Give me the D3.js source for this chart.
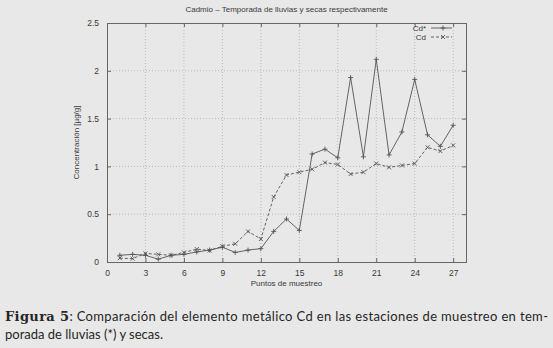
<!DOCTYPE html>
<html>
<head>
<meta charset="utf-8">
<script src="https://cdn.jsdelivr.net/npm/d3@7"></script>
<style>
  body { margin: 0; background: #e8e8e8; }
  svg { display: block; }
</style>
</head>
<body>
<div id="chart"></div>
<script>
// puntos de muestreo 1..27
const puntos = d3.range(1, 28);
// temporada de lluvias (Cd*)
const cdLluvias = [0.07, 0.08, 0.07, 0.03, 0.07, 0.08, 0.105, 0.125, 0.155, 0.10, 0.125, 0.14, 0.32, 0.45, 0.33,
  1.13, 1.18, 1.09, 1.93, 1.10, 2.12, 1.12, 1.36, 1.91, 1.33, 1.21, 1.43];
// temporada de secas (Cd)
const cdSecas = [0.04, 0.035, 0.09, 0.08, 0.07, 0.10, 0.135, 0.12, 0.165, 0.19, 0.32, 0.24, 0.68, 0.91, 0.94,
  0.97, 1.04, 1.02, 0.92, 0.94, 1.03, 0.99, 1.01, 1.03, 1.20, 1.16, 1.22];
const xTicks = [0, 3, 6, 9, 12, 15, 18, 21, 24, 27];
const yTicks = [0, 0.5, 1, 1.5, 2, 2.5];

const width = 553, height = 348;
const margin = {left: 107, right: 87, top: 23, bottom: 86};
const ink = "#3a3a3a", lineCol = "#555";

const svg = d3.select("#chart").append("svg")
  .attr("width", width)
  .attr("height", height)
  .style("font-family", "'Liberation Sans', Arial, sans-serif");

const x = d3.scaleLinear().domain([0, 28]).range([margin.left, width - margin.right]);
const y = d3.scaleLinear().domain([0, 2.5]).range([height - margin.bottom, margin.top]);

// grid
const grid = svg.append("g").attr("stroke", "#9a9a9a").attr("stroke-width", 0.6).attr("stroke-dasharray", "1,2");
grid.selectAll(".gx").data(xTicks.filter(d => d > 0)).enter().append("line")
  .attr("x1", d => x(d)).attr("x2", d => x(d)).attr("y1", y(0)).attr("y2", y(2.5));
grid.selectAll(".gy").data(yTicks.filter(d => d > 0 && d < 2.5)).enter().append("line")
  .attr("y1", d => y(d)).attr("y2", d => y(d)).attr("x1", x(0)).attr("x2", x(28));

// axes (gnuplot style: ticks inside, mirrored)
const fmt = d => d3.format("")(d);
const axB = svg.append("g").attr("transform", `translate(0,${y(0)})`)
  .call(d3.axisBottom(x).tickValues(xTicks).tickSize(-4).tickPadding(8).tickFormat(fmt));
const axT = svg.append("g").attr("transform", `translate(0,${y(2.5)})`)
  .call(d3.axisTop(x).tickValues(xTicks).tickSize(-4).tickFormat(""));
const axL = svg.append("g").attr("transform", `translate(${x(0)},0)`)
  .call(d3.axisLeft(y).tickValues(yTicks).tickSize(-4).tickPadding(8).tickFormat(fmt));
const axR = svg.append("g").attr("transform", `translate(${x(28)},0)`)
  .call(d3.axisRight(y).tickValues(yTicks).tickSize(-4).tickFormat(""));
[axB, axT, axL, axR].forEach(a => {
  a.select(".domain").attr("stroke", "#666").attr("stroke-width", 1);
  a.selectAll(".tick line").attr("stroke", "#666");
  a.selectAll(".tick text").attr("fill", ink).style("font-size", "8.5px");
});

// lines
const line = d3.line().x((d, i) => x(puntos[i])).y(d => y(d));
svg.append("path").datum(cdLluvias).attr("d", line)
  .attr("fill", "none").attr("stroke", lineCol).attr("stroke-width", 0.9);
svg.append("path").datum(cdSecas).attr("d", line)
  .attr("fill", "none").attr("stroke", lineCol).attr("stroke-width", 0.9).attr("stroke-dasharray", "3,2");

// markers
svg.append("g").selectAll("path").data(cdLluvias).enter().append("path")
  .attr("d", "M-2.5,0H2.5M0,-2.5V2.5")
  .attr("transform", (d, i) => `translate(${x(puntos[i])},${y(d)})`)
  .attr("stroke", lineCol).attr("stroke-width", 0.9);
svg.append("g").selectAll("path").data(cdSecas).enter().append("path")
  .attr("d", "M-2,-2L2,2M-2,2L2,-2")
  .attr("transform", (d, i) => `translate(${x(puntos[i])},${y(d)})`)
  .attr("stroke", lineCol).attr("stroke-width", 0.9);

// legend
const leg = [{label: "Cd*", dash: null, mark: "M-2.5,0H2.5M0,-2.5V2.5"},
             {label: "Cd", dash: "3,2", mark: "M-2,-2L2,2M-2,2L2,-2"}];
const lg = svg.append("g");
leg.forEach((l, i) => {
  const ly = 28 + i * 9;
  lg.append("text").attr("x", 426).attr("y", ly + 3).attr("text-anchor", "end")
    .attr("fill", ink).style("font-size", "8px").text(l.label);
  lg.append("line").attr("x1", 431).attr("x2", 452).attr("y1", ly).attr("y2", ly)
    .attr("stroke", lineCol).attr("stroke-width", 0.9).attr("stroke-dasharray", l.dash);
  lg.append("path").attr("d", l.mark).attr("transform", `translate(443,${ly})`)
    .attr("stroke", lineCol).attr("stroke-width", 0.9);
});

// titles
svg.append("text").attr("x", (x(0) + x(28)) / 2).attr("y", 12).attr("text-anchor", "middle")
  .attr("fill", ink).style("font-size", "8px")
  .text("Cadmio – Temporada de lluvias y secas respectivamente");
svg.append("text").attr("x", (x(0) + x(28)) / 2).attr("y", 286).attr("text-anchor", "middle")
  .attr("fill", ink).style("font-size", "8px").text("Puntos de muestreo");
svg.append("text").attr("transform", `translate(79,${y(1.25)}) rotate(-90)`).attr("text-anchor", "middle")
  .attr("fill", ink).style("font-size", "8px").text("Concentración [µg/g]");

// caption
const cap = svg.append("g").attr("fill", "#262626").style("font-size", "13px");
const l1 = cap.append("text").attr("x", 5).attr("y", 321)
  .attr("textLength", 543).attr("lengthAdjust", "spacing");
l1.append("tspan").style("font-family", "'DejaVu Serif', serif").style("font-weight", "bold")
  .style("font-size", "13px").text("Figura 5");
l1.append("tspan").style("font-family", "Lato, sans-serif")
  .text(": Comparación del elemento metálico Cd en las estaciones de muestreo en tem-");
cap.append("text").attr("x", 5).attr("y", 339).style("font-family", "Lato, sans-serif")
  .text("porada de lluvias (*) y secas.");
</script>
</body>
</html>
